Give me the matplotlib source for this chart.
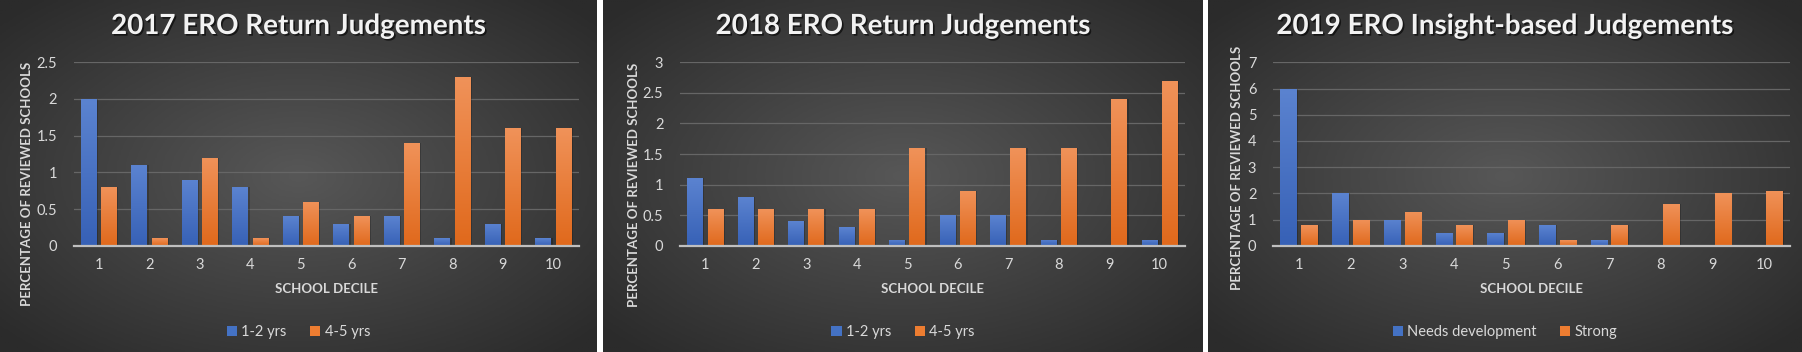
import numpy as np
import matplotlib
matplotlib.use("Agg")
import matplotlib.pyplot as plt
import matplotlib.patheffects as pe
from matplotlib.patches import Patch
from matplotlib.colors import LinearSegmentedColormap

deciles = ["1", "2", "3", "4", "5", "6", "7", "8", "9", "10"]

titles = ["2017 ERO Return Judgements",
          "2018 ERO Return Judgements",
          "2019 ERO Insight-based Judgements"]

names_2017 = ["1-2 yrs", "4-5 yrs"]
names_2018 = ["1-2 yrs", "4-5 yrs"]
names_2019 = ["Needs development", "Strong"]

short_2017 = [2.0, 1.1, 0.9, 0.8, 0.4, 0.3, 0.4, 0.1, 0.3, 0.1]
long_2017 = [0.8, 0.1, 1.2, 0.1, 0.6, 0.4, 1.4, 2.3, 1.6, 1.6]

short_2018 = [1.1, 0.8, 0.4, 0.3, 0.1, 0.5, 0.5, 0.1, 0.0, 0.1]
long_2018 = [0.6, 0.6, 0.6, 0.6, 1.6, 0.9, 1.6, 1.6, 2.4, 2.7]

needs_dev_2019 = [6.0, 2.0, 1.0, 0.5, 0.5, 0.8, 0.2, 0.0, 0.0, 0.0]
strong_2019 = [0.8, 1.0, 1.3, 0.8, 1.0, 0.2, 0.8, 1.6, 2.0, 2.1]

y_max = [2.5, 3, 7]
y_step = [0.5, 0.5, 1]

W, H = 1802, 352
fig = plt.figure(figsize=(W / 100, H / 100), dpi=100)
fig.patch.set_facecolor("white")

# panel and plot area extents in pixels
panels = [(0, 597), (603, 1203), (1208, 1802)]
plot_x = [(73.6, 578.6), (680, 1184.8), (1273, 1790)]
plot_top, plot_bot = 62.3, 245.7
ylab_x = [27, 634, 1237]
ylab_y = [184, 185, 168]

FONT = "Lato"
txt_col = "#d9d9d9"

bg_cmap = LinearSegmentedColormap.from_list("bg", ["#575757", "#2b2b2b"])
blue_cmap = LinearSegmentedColormap.from_list("bl", ["#3761b6", "#5b83d0"])
orange_cmap = LinearSegmentedColormap.from_list("or", ["#e0691c", "#f09259"])

data = [(short_2017, long_2017, names_2017),
        (short_2018, long_2018, names_2018),
        (needs_dev_2019, strong_2019, names_2019)]

for i in range(3):
    p0, p1 = panels[i]
    # background with radial gradient
    bg = fig.add_axes([p0 / W, 0, (p1 - p0) / W, 1])
    gx, gy = np.meshgrid(np.linspace(-1, 1, 300), np.linspace(-1, 1, 120))
    r = np.clip(np.sqrt(gx ** 2 + gy ** 2) / 1.35, 0, 1)
    bg.imshow(r, cmap=bg_cmap, vmin=0, vmax=1, aspect="auto", extent=[0, 1, 0, 1])
    bg.set_axis_off()

    x0, x1 = plot_x[i]
    ax = fig.add_axes([x0 / W, 1 - plot_bot / H, (x1 - x0) / W, (plot_bot - plot_top) / H])
    ax.set_facecolor("none")
    a, b, names = data[i]
    xs = np.arange(len(deciles))
    bw = 0.31
    bars_a = ax.bar(xs - 0.2, a, bw, color="#4472c4", zorder=3)
    bars_b = ax.bar(xs + 0.2, b, bw, color="#ed7d31", zorder=3)
    grad = np.linspace(0, 1, 100).reshape(-1, 1)
    for bars, cm in [(bars_a, blue_cmap), (bars_b, orange_cmap)]:
        for rect in bars:
            h = rect.get_height()
            if h <= 0:
                continue
            rx = rect.get_x()
            # soft shadow
            ax.bar(rx + rect.get_width() / 2 + 0.03, h, rect.get_width(), color="black",
                   alpha=0.2, zorder=2)
            im = ax.imshow(grad, cmap=cm, aspect="auto", origin="lower",
                           extent=[rx, rx + rect.get_width(), 0, h], zorder=4)
            im.set_clip_path(rect)
    ax.set_xlim(-0.5, len(deciles) - 0.5)
    ax.set_ylim(0, y_max[i])
    ax.set_yticks(np.arange(0, y_max[i] + 0.001, y_step[i]))
    ax.set_yticklabels(["%g" % v for v in np.arange(0, y_max[i] + 0.001, y_step[i])])
    ax.set_xticks(xs)
    ax.set_xticklabels(deciles)
    ax.grid(axis="y", color="#666666", linewidth=0.9, zorder=0)
    ax.set_axisbelow(True)
    for s in ["top", "right", "left"]:
        ax.spines[s].set_visible(False)
    ax.spines["bottom"].set_color("#bfbfbf")
    ax.spines["bottom"].set_linewidth(1.6)
    ax.spines["bottom"].set_zorder(5)
    ax.tick_params(length=0, labelcolor=txt_col, labelsize=10.5)
    ax.tick_params(axis="x", pad=9)
    ax.tick_params(axis="y", pad=12)
    for lab in ax.get_xticklabels() + ax.get_yticklabels():
        lab.set_fontfamily(FONT)

    pc = (p0 + p1) / 2
    fig.text(pc / W, 1 - 26 / H, titles[i], ha="center", va="center", fontsize=20,
             fontweight="bold", color="#f2f2f2", family=FONT,
             path_effects=[pe.withSimplePatchShadow(offset=(1.2, -1.2), shadow_rgbFace="black", alpha=0.6)])
    fig.text((x0 + x1) / 2 / W, 1 - 289 / H, "SCHOOL DECILE", ha="center", va="center",
             fontsize=9.5, fontweight="bold", color=txt_col, family=FONT)
    fig.text(ylab_x[i] / W, 1 - ylab_y[i] / H, "PERCENTAGE OF REVIEWED SCHOOLS", ha="center",
             va="center", rotation=90, fontsize=9.5, fontweight="bold", color=txt_col, family=FONT)
    handles = [Patch(facecolor="#4472c4", label=names[0]),
               Patch(facecolor="#ed7d31", label=names[1])]
    leg = fig.legend(handles=handles, loc="center", bbox_to_anchor=(pc / W, 1 - 332 / H),
                     ncol=2, frameon=False, handlelength=0.7, handleheight=0.7,
                     handletextpad=0.3, columnspacing=1.6,
                     prop={"family": FONT, "size": 10.5})
    for t in leg.get_texts():
        t.set_color(txt_col)

plt.savefig("out.png", dpi=100, facecolor=fig.get_facecolor())
plt.close()
